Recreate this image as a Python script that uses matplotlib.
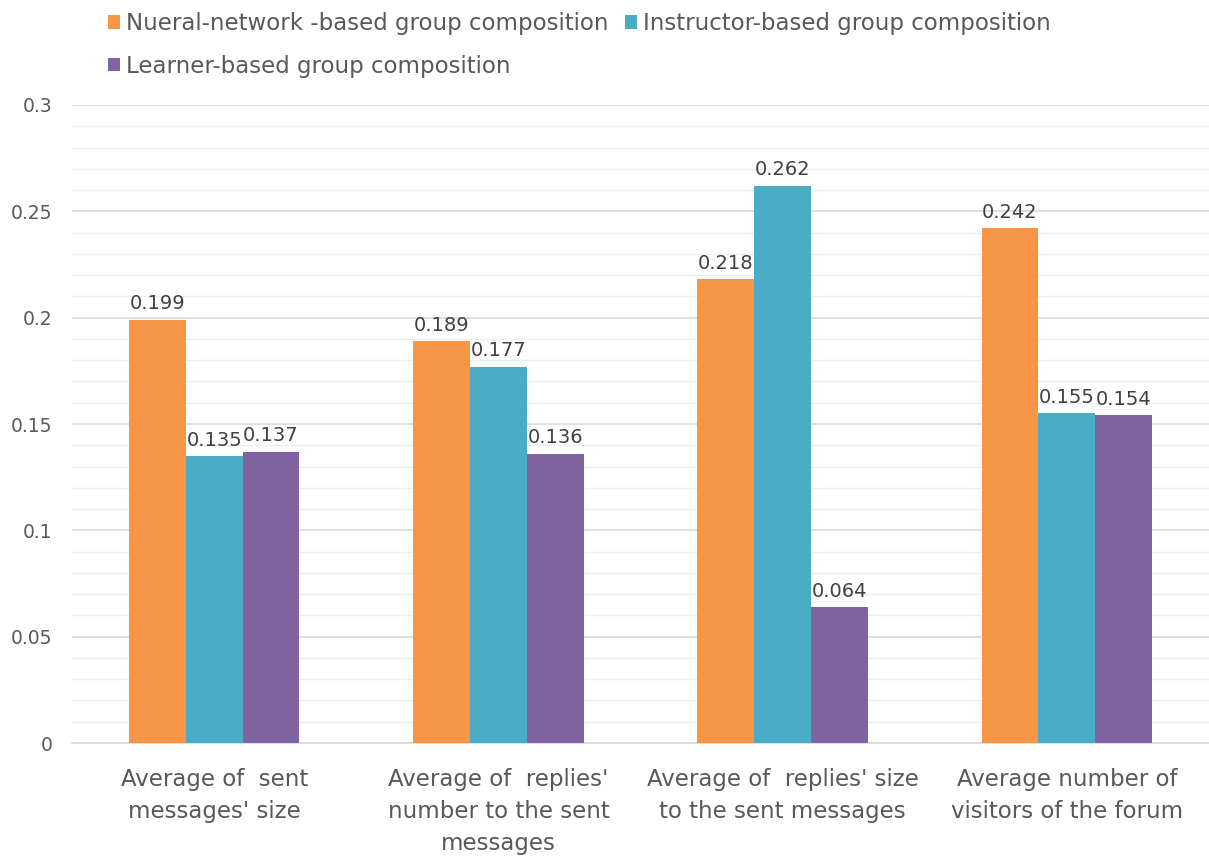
import numpy as np
import matplotlib
matplotlib.use("Agg")
import matplotlib.pyplot as plt
from matplotlib.ticker import MultipleLocator, FuncFormatter

plt.rcParams["font.family"] = ["DejaVu Sans"]

categories = [
    "Average of  sent\nmessages' size",
    "Average of  replies'\nnumber to the sent\nmessages",
    "Average of  replies' size\nto the sent messages",
    "Average number of\nvisitors of the forum",
]
series_names = [
    "Nueral-network -based group composition",
    "Instructor-based group composition",
    "Learner-based group composition",
]
neural_vals = [0.199, 0.189, 0.218, 0.242]
instructor_vals = [0.135, 0.177, 0.262, 0.155]
learner_vals = [0.137, 0.136, 0.064, 0.154]
colors = ["#F79646", "#4BACC6", "#8064A2"]

fig = plt.figure(figsize=(12.09, 8.59), dpi=100)
ax = fig.add_axes([0.0596, 0.135, 0.9404, 0.7428])

x = np.arange(len(categories))
width = 0.2
handles = []
for i, (vals, name, c) in enumerate(zip([neural_vals, instructor_vals, learner_vals], series_names, colors)):
    bars = ax.bar(x + (i - 1) * width, vals, width, color=c, label=name, zorder=3)
    handles.append(bars)
    for b, v in zip(bars, vals):
        ax.text(b.get_x() + b.get_width() / 2, v + 0.003, f"{v}",
                ha="center", va="bottom", fontsize=14, color="#404040", zorder=4)

ax.set_xlim(-0.5, len(categories) - 0.5)
ax.set_ylim(0, 0.3)
ax.yaxis.set_major_locator(MultipleLocator(0.05))
ax.yaxis.set_minor_locator(MultipleLocator(0.01))
ax.yaxis.set_major_formatter(FuncFormatter(lambda v, p: f"{v:g}"))
ax.grid(axis="y", which="major", color="#d9d9d9", linewidth=1.2, zorder=0)
ax.grid(axis="y", which="minor", color="#eeeeee", linewidth=1.0, zorder=0)
for s in ["top", "right", "left"]:
    ax.spines[s].set_visible(False)
ax.spines["bottom"].set_color("#d9d9d9")
ax.spines["bottom"].set_linewidth(1.2)
ax.tick_params(axis="both", which="both", length=0, colors="#595959")
ax.tick_params(axis="y", labelsize=13.5, pad=14)
ax.set_xticks(x)
ax.set_xticklabels(categories, fontsize=16.5, color="#595959", linespacing=1.5)
ax.tick_params(axis="x", pad=18)

# legend filled row by row
order = [0, 2, 1]
fig.legend([handles[i] for i in order], [series_names[i] for i in order],
           loc="upper left", bbox_to_anchor=(0.072, 1.01), ncol=2, frameon=False,
           fontsize=16.5, labelcolor="#595959", handlelength=0.55, handleheight=0.55,
           handletextpad=0.25, columnspacing=0.7, labelspacing=0.85)

fig.savefig("out.png", dpi=100)
